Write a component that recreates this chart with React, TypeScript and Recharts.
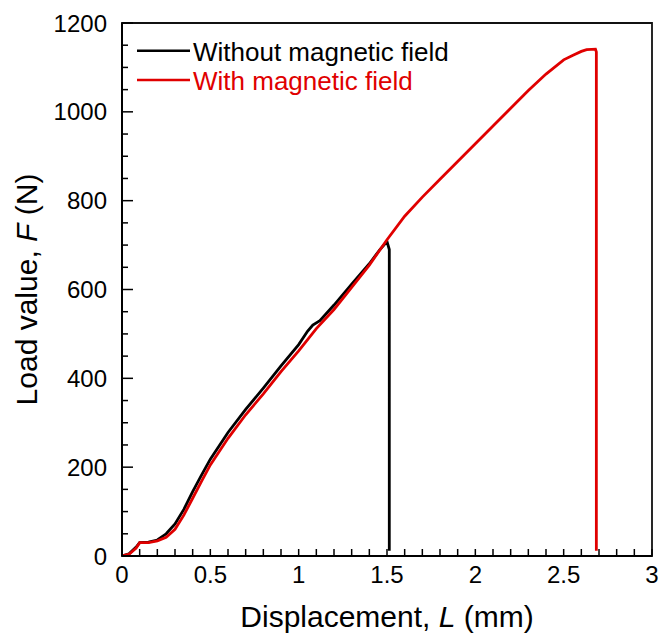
import React from "react";
import { LineChart, Line, XAxis, YAxis, ReferenceArea, Legend } from "recharts";

const blackX = [0, 0.04, 0.08, 0.1, 0.15, 0.2, 0.25, 0.3, 0.35, 0.4, 0.45, 0.5, 0.6, 0.7, 0.8, 0.9, 1.0, 1.05, 1.08, 1.12, 1.2, 1.3, 1.4, 1.46, 1.5, 1.513, 1.513];
const blackY = [0, 5, 20, 30, 31, 36, 50, 72, 105, 145, 182, 218, 278, 330, 378, 428, 476, 506, 520, 530, 565, 612, 658, 690, 708, 690, 12];

const redX = [0, 0.04, 0.08, 0.1, 0.15, 0.2, 0.25, 0.3, 0.35, 0.4, 0.45, 0.5, 0.6, 0.7, 0.8, 0.9, 1.0, 1.1, 1.2, 1.3, 1.4, 1.5, 1.6, 1.7, 1.8, 1.9, 2.0, 2.1, 2.2, 2.3, 2.4, 2.5, 2.55, 2.6, 2.63, 2.68, 2.685, 2.685];
const redY = [0, 4, 18, 30, 30, 34, 42, 60, 92, 130, 168, 205, 265, 318, 365, 415, 462, 512, 555, 605, 655, 712, 765, 808, 848, 888, 928, 968, 1008, 1048, 1085, 1117, 1127, 1136, 1140, 1141, 1135, 12];

const xMajor = [0, 0.5, 1, 1.5, 2, 2.5, 3];
const xTicks = [0, 0.1, 0.2, 0.3, 0.4, 0.5, 0.6, 0.7, 0.8, 0.9, 1, 1.1, 1.2, 1.3, 1.4, 1.5, 1.6, 1.7, 1.8, 1.9, 2, 2.1, 2.2, 2.3, 2.4, 2.5, 2.6, 2.7, 2.8, 2.9, 3];
const yMajor = [0, 200, 400, 600, 800, 1000, 1200];
const yTicks = [0, 50, 100, 150, 200, 250, 300, 350, 400, 450, 500, 550, 600, 650, 700, 750, 800, 850, 900, 950, 1000, 1050, 1100, 1150, 1200];

const seriesNames = ["Without magnetic field", "With magnetic field"];
const colors = ["#000000", "#e00000"];

const blackData = blackX.map((x, i) => ({ x, y: blackY[i] }));
const redData = redX.map((x, i) => ({ x, y: redY[i] }));

const FONT = '"Liberation Sans", Arial, sans-serif';

const XTick = (props: any) => {
  const { x, y, payload } = props;
  const v = payload.value;
  const major = xMajor.includes(v);
  return (
    <g>
      <line x1={x} y1={y} x2={x} y2={y - 7} stroke="#000" strokeWidth={1.5} />
      {major && (
        <text x={x} y={y + 27} textAnchor="middle" fontSize={24} fontFamily={FONT} fill="#000">
          {String(v)}
        </text>
      )}
    </g>
  );
};

const YTick = (props: any) => {
  const { x, y, payload } = props;
  const v = payload.value;
  const major = yMajor.includes(v);
  return (
    <g>
      <line x1={x} y1={y} x2={x + (major ? 11 : 6)} y2={y} stroke="#000" strokeWidth={1.5} />
      {major && (
        <text x={x - 15} y={y + 8.5} textAnchor="end" fontSize={24} fontFamily={FONT} fill="#000">
          {String(v)}
        </text>
      )}
    </g>
  );
};

const XTitle = (props: any) => {
  const vb = props.viewBox || {};
  const cx = vb.x + vb.width / 2;
  return (
    <text x={cx} y={627} textAnchor="middle" fontSize={30} fontFamily={FONT} fill="#000">
      Displacement, <tspan fontStyle="italic">L</tspan> (mm)
    </text>
  );
};

const YTitle = () => {
  const cy = 289.5;
  const cx = 37;
  return (
    <text x={cx} y={cy} transform={`rotate(-90, ${cx}, ${cy})`} textAnchor="middle" fontSize={30} fontFamily={FONT} fill="#000">
      Load value, <tspan fontStyle="italic">F</tspan> (N)
    </text>
  );
};

const LegendContent = () => (
  <svg width={340} height={75} style={{ display: "block" }}>
    {seriesNames.map((n, i) => (
      <g key={n}>
        <line x1={0} y1={20.7 + i * 29.3} x2={53} y2={20.7 + i * 29.3} stroke={colors[i]} strokeWidth={2.5} />
        <text x={56} y={31 + i * 29} fontSize={26} fontFamily={FONT} fill={colors[i]}>
          {n}
        </text>
      </g>
    ))}
  </svg>
);

export default function App() {
  return (
    <div style={{ position: "absolute", left: 0, top: 0, width: 662, height: 638, background: "#fff" }}>
      <LineChart width={662} height={638} margin={{ top: 23, right: 10, left: 0, bottom: 0 }}>
        <ReferenceArea x1={0} x2={3} y1={0} y2={1200} fill="none" stroke="#111" strokeWidth={1.8} ifOverflow="visible" />
        <XAxis
          type="number"
          dataKey="x"
          domain={[0, 3]}
          ticks={xTicks}
          interval={0}
          tickSize={0}
          tickMargin={0}
          tick={<XTick />}
          axisLine={{ stroke: "#000", strokeWidth: 2 }}
          height={82}
          allowDataOverflow
          label={<XTitle />}
        />
        <YAxis
          type="number"
          dataKey="y"
          domain={[0, 1200]}
          ticks={yTicks}
          interval={0}
          tickSize={0}
          tickMargin={0}
          tick={<YTick />}
          axisLine={{ stroke: "#000", strokeWidth: 2 }}
          width={122}
          allowDataOverflow
          label={<YTitle />}
        />
        <Legend
          layout="vertical"
          align="center"
          verticalAlign="middle"
          wrapperStyle={{ left: 137, top: 30, width: 340, height: 75 }}
          content={<LegendContent />}
        />
        <Line data={blackData} dataKey="y" type="linear" stroke={colors[0]} strokeWidth={2.8} dot={false} isAnimationActive={false} name={seriesNames[0]} />
        <Line data={redData} dataKey="y" type="linear" stroke={colors[1]} strokeWidth={2.8} dot={false} isAnimationActive={false} name={seriesNames[1]} />
      </LineChart>
    </div>
  );
}
